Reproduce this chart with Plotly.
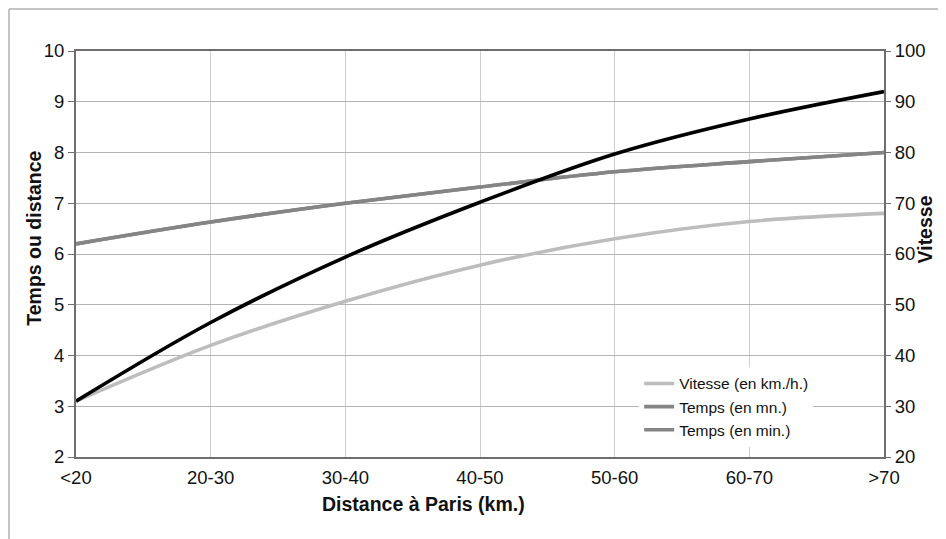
import plotly.graph_objects as go

categories = ["<20", "20-30", "30-40", "40-50", "50-60", "60-70", ">70"]
vitesse_kmh = [3.1, 4.2, 5.07, 5.78, 6.3, 6.64, 6.8]
temps_mn = [6.2, 6.63, 7.0, 7.32, 7.62, 7.82, 8.0]
temps_min = [6.2, 6.63, 7.0, 7.32, 7.62, 7.82, 8.0]
vitesse_right = [31, 46.5, 59.4, 70.2, 79.7, 86.6, 92.0]

left_ticks = [2, 3, 4, 5, 6, 7, 8, 9, 10]
right_ticks = [20, 30, 40, 50, 60, 70, 80, 90, 100]

FONT = "Liberation Sans, Arial, sans-serif"
AX = "#6e6e6e"

fig = go.Figure()
fig.add_trace(go.Scatter(x=categories, y=vitesse_right, yaxis="y2", mode="lines",
                         line=dict(color="#000000", width=3.6, shape="spline"),
                         showlegend=False, name="Vitesse"))
fig.add_trace(go.Scatter(x=categories, y=vitesse_kmh, mode="lines",
                         line=dict(color="#bdbdbd", width=3.6, shape="spline"),
                         name="Vitesse (en km./h.)"))
fig.add_trace(go.Scatter(x=categories, y=temps_mn, mode="lines",
                         line=dict(color="#858585", width=3.6, shape="spline"),
                         name="Temps (en mn.)"))
fig.add_trace(go.Scatter(x=categories, y=temps_min, mode="lines",
                         line=dict(color="#858585", width=3.6, shape="spline"),
                         name="Temps (en min.)"))

fig.update_layout(
    width=938, height=531,
    margin=dict(l=68, r=62, t=43, b=82),
    paper_bgcolor="white", plot_bgcolor="white",
    font=dict(family=FONT, color="#111111", size=18.5),
    xaxis=dict(type="category", range=[0, 6], showgrid=True, gridcolor="#cfcfcf", gridwidth=1,
               showline=True, linecolor=AX, linewidth=2, mirror=True,
               ticks="outside", ticklen=3, tickcolor="rgba(0,0,0,0)",
               tickfont=dict(size=18.5), zeroline=False),
    yaxis=dict(range=[2, 10], tickvals=left_ticks, showgrid=True, gridcolor="#b4b4b4", gridwidth=1,
               showline=True, linecolor=AX, linewidth=2, mirror=True,
               ticks="outside", ticklen=6, tickcolor=AX, tickfont=dict(size=18.5), zeroline=False),
    yaxis2=dict(range=[20, 100], tickvals=right_ticks, overlaying="y", side="right",
                showgrid=False, showline=False, ticks="outside", ticklen=6, tickcolor=AX,
                tickfont=dict(size=18.5), zeroline=False),
    legend=dict(x=0.697, y=0.222, xanchor="left", yanchor="top", bgcolor="white",
                font=dict(size=15.5, family=FONT), borderwidth=0, tracegroupgap=0),
    annotations=[
        dict(text="<b>Distance à Paris (km.)</b>", xref="paper", yref="paper",
             x=0.4295, y=-0.116, xanchor="center", yanchor="middle", showarrow=False,
             font=dict(size=19.5, family=FONT, color="#111111")),
        dict(text="<b>Temps ou distance</b>", xref="paper", yref="paper",
             x=-0.053, y=0.538, xanchor="center", yanchor="middle", showarrow=False,
             textangle=-90, font=dict(size=19.5, family=FONT, color="#111111")),
        dict(text="<b>Vitesse</b>", xref="paper", yref="paper",
             x=1.0505, y=0.56, xanchor="center", yanchor="middle", showarrow=False,
             textangle=-90, font=dict(size=19.5, family=FONT, color="#111111")),
    ],
    shapes=[
        dict(type="line", xref="paper", yref="paper", x0=-0.0829, x1=-0.0829, y0=1.1034, y1=-0.21,
             line=dict(color="#b0b0b0", width=1.5)),
        dict(type="line", xref="paper", yref="paper", x0=-0.0829, x1=1.08, y0=1.1034, y1=1.1034,
             line=dict(color="#b0b0b0", width=1.5)),
    ],
)

fig.write_html("out.html")
